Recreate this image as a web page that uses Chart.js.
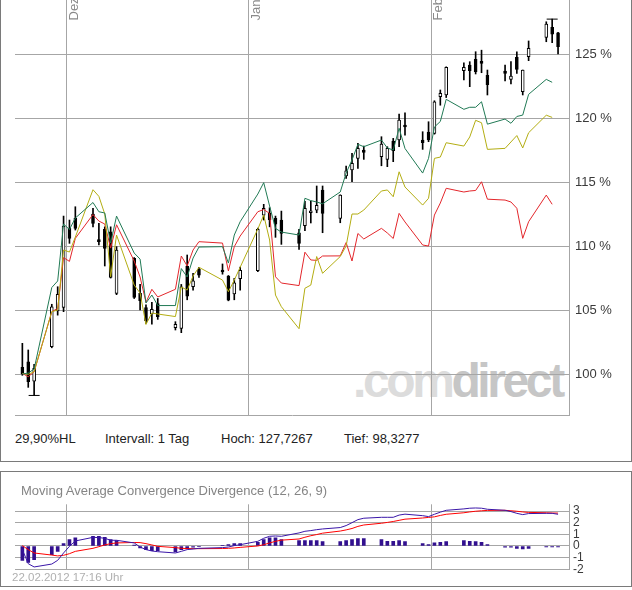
<!DOCTYPE html>
<html>
<head>
<meta charset="utf-8">
<script src="https://cdn.jsdelivr.net/npm/chart.js@4.4.1/dist/chart.umd.min.js"></script>
<style>
  html,body{margin:0;padding:0;}
  body{width:632px;height:590px;position:relative;overflow:hidden;background:#fff;font-family:"Liberation Sans",Arial,sans-serif;}
  .abs{position:absolute;white-space:nowrap;}
  #frame1{left:0;top:-1px;width:630px;height:461px;border:1px solid #7a7a7a;}
  #frame2{left:0;top:471px;width:630px;height:114px;border:1px solid #7a7a7a;}
  #wm{left:353px;top:357px;font-weight:bold;font-size:48px;line-height:48px;letter-spacing:-3.4px;}
  #wm .a{color:#dcdcdc;} #wm .b{color:#c6c6c6;}
  .info{top:431px;font-size:13px;line-height:15px;color:#222;}
  #title{left:21px;top:483px;font-size:13px;line-height:15px;color:#858585;}
  #stamp{left:12px;top:571px;font-size:11.5px;line-height:13px;color:#b0b0b0;}
  canvas{position:absolute;left:0;}
  #main{top:0;}
  #macd{top:495px;}
</style>
</head>
<body>
<div id="frame1" class="abs"></div>
<div id="frame2" class="abs"></div>
<div id="wm" class="abs"><span class="a">.com</span><span class="b">direct</span></div>
<canvas id="main" width="632" height="430"></canvas>
<canvas id="macd" width="632" height="90"></canvas>
<div class="abs info" style="left:15px">29,90%HL</div>
<div class="abs info" style="left:105px">Intervall: 1 Tag</div>
<div class="abs info" style="left:221px">Hoch: 127,7267</div>
<div class="abs info" style="left:344px">Tief: 98,3277</div>
<div id="title" class="abs">Moving Average Convergence Divergence (12, 26, 9)</div>
<div id="stamp" class="abs">22.02.2012 17:16 Uhr</div>
<script>
// ---------------- data ----------------
const dates = ['2011-11-23','2011-11-24','2011-11-25','2011-11-28','2011-11-29','2011-11-30','2011-12-01','2011-12-02','2011-12-05','2011-12-06','2011-12-07','2011-12-08','2011-12-09','2011-12-12','2011-12-13','2011-12-14','2011-12-15','2011-12-16','2011-12-19','2011-12-20','2011-12-21','2011-12-22','2011-12-23','2011-12-27','2011-12-28','2011-12-29','2011-12-30','2012-01-02','2012-01-03','2012-01-04','2012-01-05','2012-01-06','2012-01-09','2012-01-10','2012-01-11','2012-01-12','2012-01-13','2012-01-16','2012-01-17','2012-01-18','2012-01-19','2012-01-20','2012-01-23','2012-01-24','2012-01-25','2012-01-26','2012-01-27','2012-01-30','2012-01-31','2012-02-01','2012-02-02','2012-02-03','2012-02-06','2012-02-07','2012-02-08','2012-02-09','2012-02-10','2012-02-13','2012-02-14','2012-02-15','2012-02-16','2012-02-17','2012-02-20','2012-02-21','2012-02-22'];

const openV  = [100.52,100.96,99.45,102.13,104.94,105.21,111.38,112.16,112.5,110.47,111.3,111.1,106.3,109.04,106.3,105.2,104.7,105.5,103.62,103.57,108.44,106.82,108.18,108.12,107.66,106.25,107.45,108.07,112.42,112.55,112.16,112.03,111.04,111.6,112.6,112.81,114.37,112.16,115.47,115.94,116.85,117.5,116.98,116.77,118.2,118.28,119.4,118.28,118.9,118.8,121.66,121.8,123.7,124.14,124.58,124.36,123.33,123.67,123.02,124.74,122.05,124.8,126.3,127.08,126.66];
const highV  = [102.4,101.88,100.75,105.45,106.82,112.34,112.03,113.07,112.94,111.77,111.5,111.5,109.95,109.1,107.0,105.4,105.6,105.9,104.09,107.0,109.3,107.87,108.34,108.6,107.7,107.48,108.36,111.4,113.26,112.99,112.34,112.73,111.3,113.5,113.5,114.69,114.69,114.0,116.25,117.24,118.02,117.81,118.54,117.76,118.41,120.31,120.41,118.93,119.71,121.35,122.19,124.0,124.32,124.4,125.18,125.3,123.75,124.14,124.4,125.18,123.75,126.02,127.52,127.73,126.7];
const lowV   = [99.9,98.96,98.33,102.05,104.6,104.87,110.21,111.25,111.5,110.08,108.44,107.5,106.2,105.9,105.0,103.96,103.9,104.27,103.44,103.23,105.8,106.56,107.55,107.8,105.72,105.8,106.56,108.0,112.03,111.5,110.68,110.13,109.74,111.2,111.8,112.6,111.04,111.82,115.29,115.02,116.07,116.77,116.27,116.2,116.59,117.76,118.67,117.55,118.15,118.74,121.0,121.6,122.97,122.45,123.44,123.54,121.8,122.9,122.66,123.49,121.8,124.48,125.96,125.88,125.0];
const closeV = [100.0,99.4,100.45,105.26,106.23,111.56,110.6,111.38,111.77,110.34,109.82,107.55,109.69,105.99,105.73,104.16,105.05,104.48,103.88,106.82,106.09,107.29,107.73,107.97,105.78,107.13,108.1,111.3,112.94,112.03,111.7,110.99,110.21,112.94,112.7,113.18,112.55,113.98,115.88,116.46,117.63,117.32,117.97,117.63,117.45,119.84,119.3,118.07,118.28,121.27,121.93,123.96,123.96,123.7,123.62,124.27,122.6,123.49,123.28,123.8,123.75,125.44,127.34,126.56,125.57];

const greenLine = [100.0,100.08,100.39,106.76,107.27,111.72,111.29,112.19,113.40,112.68,112.58,110.23,112.34,109.45,108.98,105.55,106.17,105.35,105.35,108.24,107.58,109.06,109.92,109.95,108.67,110.86,111.90,114.06,114.95,113.13,111.38,111.09,110.86,113.73,113.55,113.44,113.30,114.22,115.70,116.72,117.95,117.76,118.28,117.66,117.50,119.20,117.62,115.70,116.85,119.30,119.73,121.46,120.68,120.84,120.84,121.27,119.52,119.92,119.59,120.12,120.23,121.85,123.02,122.79,null];
const oliveLine = [100.05,99.98,100.18,104.87,105.00,109.69,109.53,110.70,114.40,113.88,112.50,107.60,110.86,106.95,106.33,103.87,104.77,104.69,104.49,106.80,106.56,107.66,108.34,107.34,106.43,107.34,108.34,111.33,112.42,110.47,106.17,105.26,103.54,106.70,106.95,109.18,107.87,109.18,110.00,112.50,112.50,112.81,114.30,114.38,113.85,115.80,114.61,113.20,113.73,116.85,116.95,118.07,117.81,118.52,119.82,119.63,117.55,117.63,118.13,118.63,117.66,118.85,120.22,120.05,null];
const redLine   = [100.05,99.79,100.18,104.87,105.13,109.10,108.80,110.60,112.46,111.95,111.72,109.84,111.66,108.83,107.58,105.61,106.62,106.02,106.62,109.22,108.44,109.69,110.34,110.23,108.05,109.95,110.78,112.68,112.85,112.55,107.60,107.11,106.91,109.52,108.91,108.88,109.22,109.23,110.27,108.83,110.98,110.55,111.38,111.02,110.59,112.55,111.88,110.08,110.00,112.42,113.36,114.51,114.22,114.30,114.34,115.02,113.66,113.59,113.44,112.95,110.60,111.90,113.98,113.26,null];

const macdLine   = [-0.31,-1.52,-1.80,-1.55,-1.23,-0.60,-0.03,0.43,0.74,0.72,0.66,0.49,0.49,0.26,-0.09,-0.31,-0.43,-0.49,-0.60,-0.46,-0.31,-0.26,-0.20,-0.14,-0.09,0.03,0.11,0.40,0.66,0.83,0.86,0.83,1.12,1.26,1.32,1.40,1.46,1.58,1.75,2.00,2.26,2.38,2.46,2.46,2.46,2.65,2.73,2.60,2.52,2.72,2.90,3.06,3.18,3.24,3.26,3.24,3.15,3.06,2.95,2.80,2.69,2.78,2.80,2.80,2.72];
const signalLine = [0.03,-0.31,-0.60,-0.78,-0.85,-0.80,-0.66,-0.46,-0.20,-0.06,0.09,0.20,0.26,0.30,0.29,0.20,0.09,-0.03,-0.14,-0.20,-0.22,-0.23,-0.23,-0.22,-0.20,-0.17,-0.12,0.00,0.11,0.26,0.40,0.50,0.60,0.75,0.88,0.98,1.10,1.28,1.38,1.50,1.68,1.80,1.95,2.02,2.10,2.20,2.30,2.40,2.45,2.50,2.62,2.72,2.85,2.92,2.98,3.02,3.05,3.06,3.02,2.98,2.92,2.88,2.85,2.83,2.82];
const histV      = [-1.23,-1.40,-1.17,-0.74,-0.46,0.20,0.54,0.69,0.83,0.83,0.74,0.54,0.46,0.08,-0.17,-0.31,-0.40,-0.40,-0.51,-0.31,-0.23,-0.11,-0.06,0.05,0.11,0.20,0.20,0.31,0.54,0.69,0.69,0.54,0.46,0.46,0.46,0.46,0.37,0.37,0.46,0.54,0.63,0.63,0.54,0.40,0.40,0.46,0.37,0.20,0.11,0.26,0.31,0.37,0.46,0.40,0.37,0.31,0.11,-0.11,-0.11,-0.20,-0.26,-0.20,-0.09,-0.09,-0.09];

const monthStarts = ['2011-12-01','2012-01-01','2012-02-01'];
const monthLabels = ['Dez','Jan','Feb'];
const priceTicks  = [100,105,110,115,120,125];
const macdTicks   = [-2,-1,0,1,2,3];
const extremeDates  = ['2011-11-25','2012-02-21'];
const extremeValues = [98.3277,127.7267];

// ---------------- helpers ----------------
const ORIGIN = Date.UTC(2011,11,1);
function dayPos(s){const p=s.split('-').map(Number);return (Date.UTC(p[0],p[1]-1,p[2])-ORIGIN)/86400000;}
const xs = dates.map(d=>dayPos(d)+0.5);
const FONT = '"Liberation Sans", Arial, sans-serif';
Chart.defaults.font.family = FONT;
const GRID = '#a6a6a6';
const X_MIN = -8.75, X_MAX = 85.36;

function xScale(){
  return {
    type:'linear', min:X_MIN, max:X_MAX, offset:false,
    grid:{color:GRID, drawTicks:false, lineWidth:1, offset:false},
    border:{display:true, color:GRID},
    ticks:{display:false},
    afterBuildTicks:s=>{s.ticks = monthStarts.map(m=>({value:dayPos(m)}));},
    afterFit:s=>{s.height=0; s.paddingLeft=0; s.paddingRight=0;}
  };
}

const monthLabelPlugin = {
  id:'monthLabels',
  afterDraw(chart){
    const ctx = chart.ctx, x = chart.scales.x;
    ctx.save();
    ctx.font = '13px ' + FONT;
    ctx.fillStyle = '#8a8a8a';
    ctx.textAlign = 'left';
    ctx.textBaseline = 'alphabetic';
    monthStarts.forEach((m,i)=>{
      const px = x.getPixelForValue(dayPos(m));
      ctx.save();
      ctx.translate(px + 11, 20.5);
      ctx.rotate(-Math.PI/2);
      ctx.fillText(monthLabels[i], 0, 0);
      ctx.restore();
    });
    ctx.restore();
  }
};

// ---------------- main chart ----------------
new Chart(document.getElementById('main'), {
  type:'bar',
  data:{datasets:[
    {type:'bar', order:6, grouped:false, barThickness:1,
     data: xs.map((x,i)=>({x, y:[lowV[i], highV[i]]})),
     backgroundColor:'#000', borderWidth:0},
    {type:'bar', order:5, grouped:false, barThickness:3, minBarLength:2,
     data: xs.map((x,i)=>({x, y:[Math.min(openV[i],closeV[i]), Math.max(openV[i],closeV[i])]})),
     backgroundColor: xs.map((x,i)=> closeV[i]>=openV[i] ? '#ffffff' : '#000000'),
     borderColor:'#000', borderWidth:1, borderSkipped:false},
    {type:'line', order:3, data: xs.map((x,i)=>({x, y:redLine[i]})),
     borderColor:'#e3262b', borderWidth:1, pointRadius:0, tension:0, spanGaps:false},
    {type:'line', order:2, data: xs.map((x,i)=>({x, y:oliveLine[i]})),
     borderColor:'#b3ad12', borderWidth:1, pointRadius:0, tension:0, spanGaps:false},
    {type:'line', order:1, data: xs.map((x,i)=>({x, y:greenLine[i]})),
     borderColor:'#217a55', borderWidth:1, pointRadius:0, tension:0, spanGaps:false},
    {type:'scatter', order:0, data: extremeDates.map((d,i)=>({x:dayPos(d)+0.5, y:extremeValues[i]})),
     pointStyle:'line', pointRadius:5.5, borderColor:'#000', borderWidth:1, backgroundColor:'#000'}
  ]},
  options:{
    responsive:false, animation:false, devicePixelRatio:1,
    layout:{autoPadding:false, padding:{left:15, right:0, top:0, bottom:15}},
    plugins:{legend:{display:false}, tooltip:{enabled:false}},
    scales:{
      x: xScale(),
      y:{
        position:'right', min:96.8, max:129.22,
        grid:{color:GRID, drawTicks:false},
        border:{display:true, color:GRID},
        ticks:{padding:6, autoSkip:false, color:'#3a3a3a', font:{size:13, family:FONT}, callback:v=>v+' %'},
        afterBuildTicks:s=>{s.ticks = priceTicks.map(v=>({value:v}));},
        afterFit:s=>{s.width=63; s.paddingTop=0; s.paddingBottom=0;}
      }
    }
  },
  plugins:[monthLabelPlugin]
});

// ---------------- MACD chart ----------------
new Chart(document.getElementById('macd'), {
  type:'bar',
  data:{datasets:[
    {type:'bar', order:3, grouped:false, barThickness:3,
     data: xs.map((x,i)=>({x, y:histV[i]})), backgroundColor:'#32108f', borderWidth:0},
    {type:'line', order:2, data: xs.map((x,i)=>({x, y:signalLine[i]})),
     borderColor:'#ff0000', borderWidth:1, pointRadius:0, tension:0},
    {type:'line', order:1, data: xs.map((x,i)=>({x, y:macdLine[i]})),
     borderColor:'#3a16a8', borderWidth:1, pointRadius:0, tension:0}
  ]},
  options:{
    responsive:false, animation:false, devicePixelRatio:1,
    layout:{autoPadding:false, padding:{left:15, right:0, top:9.3, bottom:15.7}},
    plugins:{legend:{display:false}, tooltip:{enabled:false}},
    scales:{
      x: xScale(),
      y:{
        position:'right', min:-2, max:3.575,
        grid:{color:GRID, drawTicks:false},
        border:{display:true, color:GRID},
        ticks:{padding:4, autoSkip:false, color:'#3a3a3a', font:{size:12, family:FONT}},
        afterBuildTicks:s=>{s.ticks = macdTicks.map(v=>({value:v}));},
        afterFit:s=>{s.width=63; s.paddingTop=0; s.paddingBottom=0;}
      }
    }
  }
});
</script>
</body>
</html>
